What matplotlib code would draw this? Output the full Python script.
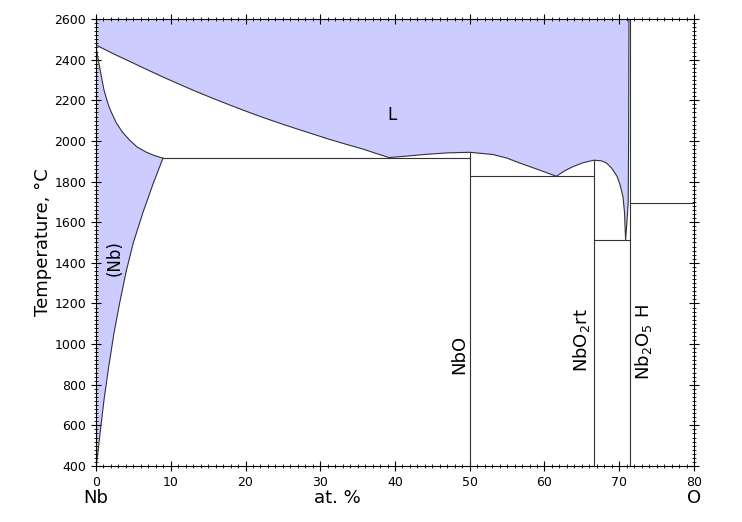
import matplotlib.pyplot as plt
from matplotlib.ticker import MultipleLocator

# liquidus, Nb side -> O side (at.% O, T in C)
liq_x = [0, 2.2, 4.46, 6.7, 8.92, 11.2, 13.4, 15.6, 17.8, 20.0, 22.3, 24.5, 26.8, 29.0,
         31.2, 33.4, 35.7, 37.5, 39.2,
         41.5, 44.2, 47.0, 50.0, 53.1, 55.0, 56.7, 58.3, 59.8, 61.6,
         62.7, 63.8, 65.2, 66.6, 67.6, 68.3, 69.0, 69.7, 70.1, 70.5, 70.7, 70.85,
         71.0, 71.1, 71.2, 71.25, 71.3]
liq_t = [2472, 2431, 2392, 2353, 2315, 2278, 2243, 2210, 2178, 2147, 2116, 2088, 2060, 2034,
         2008, 1984, 1960, 1938, 1918,
         1925, 1934, 1941, 1944, 1933, 1915, 1891, 1870, 1850, 1826,
         1853, 1873, 1893, 1905, 1902, 1891, 1865, 1826, 1785, 1725, 1650, 1512,
         1590, 1640, 1700, 2000, 2600]

# solidus of (Nb)
sol_x = [0, 0.1, 0.3, 0.62, 1.07, 1.5, 1.9, 2.7, 3.5, 4.46, 5.5, 6.7, 7.8, 8.96]
sol_t = [2472, 2440, 2400, 2335, 2250, 2195, 2153, 2090, 2045, 2005, 1970, 1945, 1928, 1915]

# solvus of (Nb)
slv_x = [8.96, 7.6, 6.3, 5.0, 4.05, 3.15, 2.4, 1.7, 1.07, 0.54, 0.2, 0]
slv_t = [1915, 1785, 1650, 1500, 1360, 1200, 1053, 889, 725, 561, 450, 400]

# invariant lines: (x_start, x_end, T)
hlines = [(8.96, 50.0, 1915), (50.0, 66.67, 1826), (66.67, 71.43, 1510), (71.43, 80, 1693)]
# compound lines: (x, T_top)
vlines = [(50.0, 1944), (66.67, 1906), (71.43, 2600)]

fill_col = '#ccccff'
line_col = '#333333'

fig = plt.figure(figsize=(7.42, 5.22), dpi=100)
ax = fig.add_axes([0.1294, 0.1073, 0.8059, 0.8563])

# fill liquid region
ax.fill(liq_x + [0], liq_t + [2600], color=fill_col, lw=0)
# fill (Nb) region
ax.fill(sol_x + slv_x, sol_t + slv_t, color=fill_col, lw=0)

ax.plot(liq_x, liq_t, color=line_col, lw=0.8)
ax.plot(sol_x, sol_t, color=line_col, lw=0.8)
ax.plot(slv_x, slv_t, color=line_col, lw=0.8)
for x0, x1, t in hlines:
    ax.plot([x0, x1], [t, t], color=line_col, lw=0.8)
for x, t in vlines:
    ax.plot([x, x], [400, t], color=line_col, lw=0.8)

ax.set_xlim(0, 80)
ax.set_ylim(400, 2600)
ax.xaxis.set_major_locator(MultipleLocator(10))
ax.xaxis.set_minor_locator(MultipleLocator(1))
ax.yaxis.set_major_locator(MultipleLocator(200))
ax.yaxis.set_minor_locator(MultipleLocator(20))
ax.tick_params(which='both', direction='inout', top=True, right=True, labelsize=9)
ax.tick_params(which='major', length=7)
ax.tick_params(which='minor', length=3)

ax.set_ylabel('Temperature, °C', fontsize=13, labelpad=2)

ax.text(39.6, 2128, 'L', fontsize=12, ha='center', va='center')
ax.text(2.5, 1424, '(Nb)', fontsize=12, ha='center', va='center', rotation=90)
ax.text(48.6, 950, 'NbO', fontsize=13, ha='center', va='center', rotation=90)
ax.text(65.0, 1020, r'NbO$_2$rt', fontsize=13, ha='center', va='center', rotation=90)
ax.text(73.3, 1010, r'Nb$_2$O$_5$ H', fontsize=13, ha='center', va='center', rotation=90)

ax.text(0, -0.072, 'Nb', transform=ax.get_xaxis_transform(), fontsize=13, ha='center', va='center')
ax.text(80, -0.072, 'O', transform=ax.get_xaxis_transform(), fontsize=13, ha='center', va='center')
ax.text(32.3, -0.072, 'at. %', transform=ax.get_xaxis_transform(), fontsize=13, ha='center', va='center')

fig.savefig('out.png', dpi=100)
